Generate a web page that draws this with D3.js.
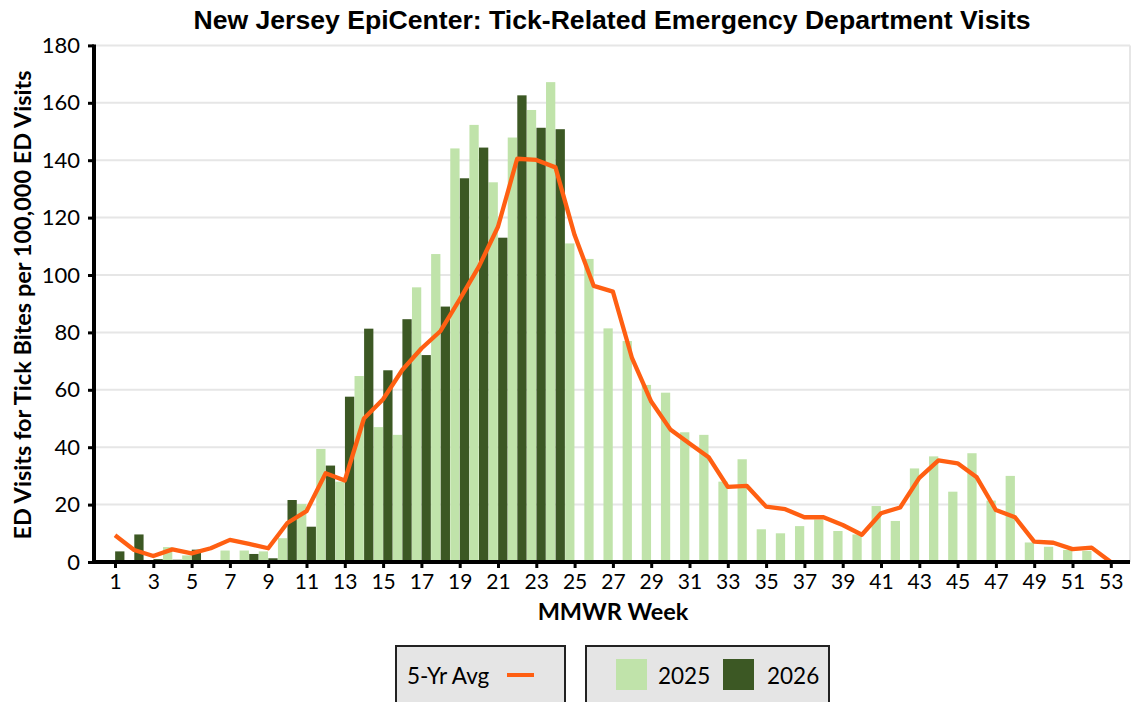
<!DOCTYPE html>
<html>
<head>
<meta charset="utf-8">
<script src="https://cdn.jsdelivr.net/npm/d3@7"></script>
<style>
  html, body { margin: 0; padding: 0; background: #ffffff; }
  svg { display: block; }
</style>
</head>
<body>
<div id="chart"></div>
<script>
// ---- Data ----
const weeks = [1,2,3,4,5,6,7,8,9,10,11,12,13,14,15,16,17,18,19,20,21,22,23,24,25,26,27,28,29,30,31,32,33,34,35,36,37,38,39,40,41,42,43,44,45,46,47,48,49,50,51,52,53];
const values2025 = [0,0,0.5,5.2,2.3,0,4.0,4.0,3.7,8.3,20.2,39.4,28,64.8,47,44.3,95.7,107.3,144.1,152.3,132.3,147.9,157.5,167.2,111,105.6,81.4,77,61.7,59,45.2,44.3,28,35.8,11.4,10,12.5,14.8,10.8,9.6,19.5,14.3,32.6,36.8,24.5,37.9,21.4,30,6.8,5.3,4.2,3.9,0];
const values2026 = [3.7,9.6,1,0.8,4.3,0,0.6,2.8,1.3,21.6,12.3,33.6,57.6,81.3,66.8,84.6,72.1,89,133.7,144.4,113,162.6,151.3,150.8];
const avg5yr = [9.3,4.2,2.1,4.4,3,4.8,7.7,6.3,4.8,13.6,17.7,30.9,28.4,50,56.7,66.9,74.4,80.5,91.5,102.9,116.8,140.5,140.1,137.5,113.9,96.2,94.2,71,55.9,46.2,41.3,36.5,26.2,26.5,19.3,18.4,15.6,15.6,12.9,9.5,17,19,29.3,35.4,34.4,29.5,18.1,15.6,7.1,6.7,4.5,5,0];
const yTicks = [0,20,40,60,80,100,120,140,160,180];
const xTickWeeks = [1,3,5,7,9,11,13,15,17,19,21,23,25,27,29,31,33,35,37,39,41,43,45,47,49,51,53];

const titleText = "New Jersey EpiCenter: Tick-Related Emergency Department Visits";
const xTitle = "MMWR Week";
const yTitle = "ED Visits for Tick Bites per 100,000 ED Visits";

// ---- Styles ----
const W = 1132, H = 702;
const color2025 = "#c0e3aa";
const color2026 = "#3c5824";
const colorAvg = "#ff5f12";
const gridColor = "#e6e6e6";
const tickFont = "Lato, 'Open Sans', sans-serif";

const svg = d3.select("#chart").append("svg").attr("width", W).attr("height", H);

const x = d3.scaleLinear().domain([0, 54]).range([95.85, 1129.95]);
const y = d3.scaleLinear().domain([0, 180]).range([562, 45.4]);
const step = x(1) - x(0);
const barW = step / 2 - 0.3;

// gridlines
svg.append("g").selectAll("line").data(yTicks.filter(d => d > 0)).join("line")
  .attr("x1", 94).attr("x2", 1130)
  .attr("y1", d => y(d)).attr("y2", d => y(d))
  .attr("stroke", gridColor).attr("stroke-width", 2);
// right border
svg.append("line").attr("x1", 1130).attr("x2", 1130).attr("y1", y(180)).attr("y2", y(0))
  .attr("stroke", gridColor).attr("stroke-width", 2);

// bars 2025
svg.append("g").selectAll("rect").data(weeks.map((w, i) => ({w, v: values2025[i]}))).join("rect")
  .attr("x", d => x(d.w) - step / 2 + 0.15)
  .attr("width", barW)
  .attr("y", d => y(d.v))
  .attr("height", d => y(0) - y(d.v))
  .attr("fill", color2025);

// bars 2026
svg.append("g").selectAll("rect").data(values2026.map((v, i) => ({w: weeks[i], v}))).join("rect")
  .attr("x", d => x(d.w) + 0.15)
  .attr("width", barW)
  .attr("y", d => y(d.v))
  .attr("height", d => y(0) - y(d.v))
  .attr("fill", color2026);

// 5-yr avg line
const line = d3.line().x(d => x(d.w)).y(d => y(d.v));
svg.append("path")
  .datum(weeks.map((w, i) => ({w, v: avg5yr[i]})))
  .attr("d", line)
  .attr("fill", "none")
  .attr("stroke", colorAvg)
  .attr("stroke-width", 4.3)
  .attr("stroke-linejoin", "round");

// Y axis
const yAxis = d3.axisLeft(y).tickValues(yTicks).tickSize(6).tickPadding(6);
const gy = svg.append("g").attr("transform", "translate(94,0)").call(yAxis);
gy.select(".domain").attr("stroke", "#000").attr("stroke-width", 4).attr("d", `M0,${y(180)-1}V${y(0)+2}`);
gy.selectAll(".tick line").attr("stroke", "#000").attr("stroke-width", 3);
gy.selectAll(".tick text").attr("font-family", tickFont).attr("font-size", 22).attr("fill", "#000").attr("dx", -2);

// X axis
const xAxis = d3.axisBottom(x).tickValues(xTickWeeks).tickSize(6).tickPadding(6).tickFormat(d3.format("d"));
const gx = svg.append("g").attr("transform", `translate(0,${y(0)})`).call(xAxis);
gx.select(".domain").attr("stroke", "#000").attr("stroke-width", 4).attr("d", `M92,0H1130`);
gx.selectAll(".tick line").attr("stroke", "#000").attr("stroke-width", 3);
gx.selectAll(".tick text").attr("font-family", tickFont).attr("font-size", 21).attr("fill", "#000");

// Titles
svg.append("text").attr("x", 612).attr("y", 29).attr("text-anchor", "middle")
  .attr("font-family", "'Liberation Sans', Arial, sans-serif").attr("font-weight", "bold")
  .attr("font-size", 26.6).text(titleText);
svg.append("text").attr("x", 613).attr("y", 620).attr("text-anchor", "middle")
  .attr("font-family", tickFont).attr("font-weight", "bold")
  .attr("font-size", 23.5).text(xTitle);
svg.append("text").attr("transform", "translate(31,305) rotate(-90)").attr("text-anchor", "middle")
  .attr("font-family", tickFont).attr("font-weight", "bold")
  .attr("font-size", 23.5).text(yTitle);

// Legend
const lg = svg.append("g");
lg.append("rect").attr("x", 396).attr("y", 646).attr("width", 169).attr("height", 80)
  .attr("fill", "#e5e5e5").attr("stroke", "#222").attr("stroke-width", 2);
lg.append("text").attr("x", 407).attr("y", 684).attr("font-family", tickFont).attr("font-size", 22.5).text("5-Yr Avg");
lg.append("line").attr("x1", 507).attr("x2", 534).attr("y1", 675).attr("y2", 675)
  .attr("stroke", colorAvg).attr("stroke-width", 4);

lg.append("rect").attr("x", 586).attr("y", 646).attr("width", 243).attr("height", 80)
  .attr("fill", "#e5e5e5").attr("stroke", "#222").attr("stroke-width", 2);
lg.append("rect").attr("x", 616).attr("y", 659).attr("width", 31).attr("height", 31).attr("fill", color2025);
lg.append("text").attr("x", 658).attr("y", 684).attr("font-family", tickFont).attr("font-size", 22.5).text("2025");
lg.append("rect").attr("x", 723).attr("y", 659).attr("width", 31).attr("height", 31).attr("fill", color2026);
lg.append("text").attr("x", 767).attr("y", 684).attr("font-family", tickFont).attr("font-size", 22.5).text("2026");
</script>
</body>
</html>
